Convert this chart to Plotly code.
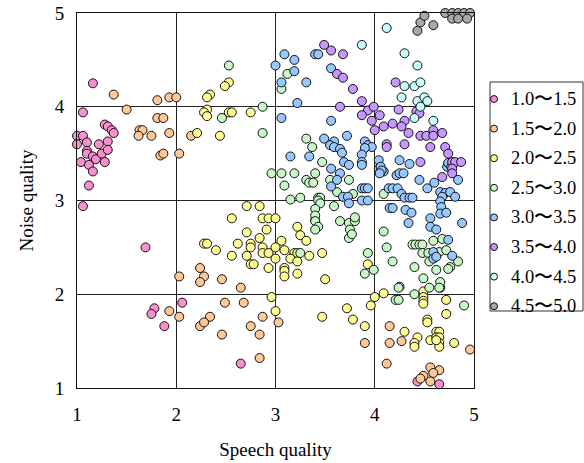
import plotly.graph_objects as go

labels = ["1.0〜1.5", "1.5〜2.0", "2.0〜2.5", "2.5〜3.0", "3.0〜3.5", "3.5〜4.0", "4.0〜4.5", "4.5〜5.0"]
colors = ["#f98fcf", "#ffc896", "#ffff96", "#c8f8c8", "#96c8ff", "#c896ff", "#c8ffff", "#a8a8a8"]

pink_x = [1.16,1.06,1.28,1.31,1.35,1.37,1.00,1.06,1.00,1.10,1.22,1.31,1.10,1.10,1.16,1.19,1.25,1.31,1.04,1.12,1.28,1.16,1.12,1.06,1.69,1.78,1.75,2.06,1.88,2.65,4.43,4.65]
pink_y = [4.25,3.94,3.81,3.79,3.75,3.72,3.69,3.69,3.60,3.62,3.60,3.63,3.53,3.50,3.47,3.44,3.50,3.54,3.41,3.38,3.41,3.31,3.16,2.94,2.50,1.85,1.79,1.91,1.66,1.26,1.07,1.04]

orange_x = [1.37,1.50,1.81,1.93,2.00,1.81,1.87,1.63,1.66,1.62,1.75,1.93,1.84,1.87,2.03,2.15,2.03,2.24,2.28,2.24,1.93,2.03,2.24,2.46,2.65,2.49,2.68,2.34,2.28,2.87,2.75,2.84,2.46,3.03,2.84,4.15,3.90,4.15,4.27,4.12,4.56,4.65,4.59,4.49,4.46,4.56,4.96]
orange_y = [4.13,3.97,4.07,4.10,4.10,3.88,3.88,3.75,3.75,3.69,3.69,3.72,3.48,3.50,3.50,3.69,2.19,2.28,2.19,2.13,1.82,1.76,1.66,2.16,2.07,1.91,1.91,1.76,1.70,1.76,1.66,1.57,1.57,1.70,1.32,1.66,1.48,1.48,1.50,1.26,1.22,1.19,1.16,1.13,1.10,1.07,1.41]

yellow_x = [2.21,2.53,2.49,2.34,2.31,2.31,2.28,2.31,2.53,2.56,2.75,2.44,
            2.71,2.84,2.56,2.87,2.93,3.00,3.22,3.25,3.31,2.91,2.71,2.84,2.28,2.31,2.40,2.62,2.75,2.75,2.87,2.87,2.93,3.06,3.00,3.09,2.56,2.71,3.00,3.19,3.22,3.15,3.22,3.34,2.75,2.78,2.93,3.09,3.09,3.09,3.22,3.47,3.50,2.96,3.00,3.47,3.40,3.93,
            4.00,4.09,3.96,3.72,3.78,3.90,4.49,4.49,4.49,4.49,4.66,4.72,4.72,4.53,4.53,4.30,4.43,4.40,4.40,4.56,4.62,4.65,4.62,4.65,4.65,4.65,4.62,4.80]
yellow_y = [3.72,4.26,4.22,4.13,4.10,3.97,3.94,3.90,3.94,3.94,3.94,3.69,
            2.94,2.94,2.81,2.81,2.81,2.81,2.72,2.63,2.57,2.69,2.66,2.60,2.54,2.54,2.47,2.54,2.54,2.50,2.50,2.44,2.44,2.57,2.50,2.47,2.41,2.41,2.38,2.44,2.44,2.38,2.35,2.41,2.32,2.32,2.28,2.28,2.25,2.19,2.22,2.44,2.16,1.97,1.82,1.76,2.79,2.32,
            1.97,2.01,1.88,1.85,1.73,1.66,2.03,1.97,1.93,1.90,2.07,1.94,1.79,1.73,1.70,1.60,1.54,1.48,1.44,1.51,1.60,1.60,1.54,1.54,1.48,1.44,1.51,1.48]

green_x = [2.53,2.87,2.46,2.87,3.12,3.06,3.31,3.37,3.47,2.96,3.06,3.19,3.09,3.40,3.31,3.34,3.38,3.25,3.43,3.55,3.74,3.62,3.78,3.15,3.45,3.43,3.45,3.59,3.40,3.40,3.40,3.43,3.40,3.65,3.74,3.80,3.80,3.75,3.74,3.77,3.25,3.93,3.90,3.99,
           4.09,4.09,4.12,4.18,4.40,4.38,4.41,4.45,4.48,4.48,4.54,4.55,4.59,4.68,4.65,4.72,4.76,4.74,4.84,4.62,4.49,4.66,4.25,4.40,4.55,4.24,4.21,4.24,4.65,4.90]
green_y = [4.44,4.00,3.88,3.72,4.35,4.19,3.66,3.57,3.41,3.29,3.29,3.29,3.16,3.29,3.22,3.19,3.19,3.03,3.03,3.22,3.22,3.09,3.07,3.01,3.03,3.00,2.97,2.94,2.91,2.84,2.78,2.72,2.69,2.78,2.76,2.78,2.82,2.69,2.60,2.64,2.44,2.44,2.22,2.26,
           3.07,2.67,2.50,2.35,2.29,2.53,2.53,2.53,2.53,2.44,2.44,2.35,2.57,2.59,2.45,2.47,2.29,2.27,2.35,2.26,2.17,2.13,2.08,2.00,2.07,2.07,1.94,1.94,2.07,1.88]

blue_x = [3.00,3.09,3.19,3.19,3.06,3.31,3.40,3.43,3.22,3.06,3.15,3.34,3.49,3.56,3.56,3.59,3.72,3.55,3.59,3.65,3.67,
          4.04,4.09,4.06,4.22,4.25,4.29,4.25,4.35,4.45,4.53,4.60,4.84,4.73,4.14,4.18,4.23,4.27,4.30,4.35,4.38,4.15,4.18,4.31,4.37,4.34,4.56,4.56,4.62,4.88,4.66,4.71,4.76,4.68,4.66,4.67,4.66,4.72,4.81,4.74,4.59,4.59,4.62,4.78,
          3.69,3.74,3.56,3.65,3.62,3.56,3.68,3.73,3.87,3.90,3.93,3.90,3.93,3.97,3.90,3.87,3.87,3.87,4.04,4.06,4.07,4.05,4.74,4.77,3.87,3.93,3.74]
blue_y = [4.44,4.56,4.50,4.38,4.26,4.26,4.56,4.56,4.04,3.88,3.47,3.47,3.66,4.41,3.85,3.63,3.69,3.59,3.57,3.55,3.51,
          3.34,3.31,3.31,3.27,3.29,3.29,3.43,3.39,3.22,3.13,3.19,3.22,3.36,3.13,3.13,3.13,3.07,3.03,3.03,3.03,2.92,2.92,2.90,2.87,2.76,2.81,2.72,2.69,2.76,3.09,3.08,3.09,3.04,2.99,2.93,2.86,2.87,3.04,2.58,2.45,2.38,2.40,2.41,
          3.41,3.38,3.34,3.29,3.22,3.15,3.04,3.04,3.13,3.13,3.13,3.63,3.59,3.57,3.56,3.49,3.41,3.38,3.43,3.36,3.32,3.29,3.40,3.36,3.00,3.00,2.97]

purple_x = [3.49,3.56,3.68,3.62,3.68,3.78,3.87,3.65,3.93,3.87,3.97,3.99,4.05,4.09,4.00,4.21,4.24,4.30,4.27,4.18,4.34,4.42,4.45,4.12,4.12,4.30,4.46,4.52,4.59,4.59,4.68,4.56,4.46,4.71,4.74,4.78,4.81,4.87,4.78,4.78,4.68]
purple_y = [4.66,4.60,4.56,4.35,4.31,4.19,4.06,4.00,3.96,3.91,3.85,4.00,3.91,3.79,3.75,4.26,3.97,3.85,3.79,3.82,3.72,3.95,3.93,3.60,3.57,3.60,3.69,3.69,3.75,3.69,3.72,3.57,3.41,3.57,3.50,3.41,3.41,3.41,3.34,3.29,3.25]

cyan_x = [4.12,3.87,4.30,4.43,4.30,4.40,4.46,4.27,4.43,4.50,4.53,4.46,4.40,4.59]
cyan_y = [4.84,4.66,4.57,4.44,4.22,4.22,4.26,4.10,4.06,4.10,4.06,4.00,3.88,3.85]

gray_x = [4.43,4.46,4.50,4.59,4.71,4.78,4.84,4.90,4.96,4.78,4.84,4.93]
gray_y = [4.81,4.90,4.97,4.87,5.00,5.00,5.00,5.00,5.00,4.94,4.94,4.94]

series = [(pink_x, pink_y), (orange_x, orange_y), (yellow_x, yellow_y), (green_x, green_y),
          (blue_x, blue_y), (purple_x, purple_y), (cyan_x, cyan_y), (gray_x, gray_y)]

FONT = "Liberation Serif"
FS = 19
LEG_FS = 18.5
fig = go.Figure()
for (xs, ys), lab, col in zip(series, labels, colors):
    fig.add_trace(go.Scatter(
        x=xs, y=ys, mode="markers", name=lab, showlegend=False, cliponaxis=False,
        marker=dict(size=9, color=col, line=dict(color="#111111", width=1)),
    ))

axis_common = dict(
    range=[1, 5], tickvals=[1, 2, 3, 4, 5], showgrid=True, gridcolor="#222222", gridwidth=1,
    showline=True, mirror=True, linecolor="#111111", linewidth=1, zeroline=False,
    ticks="", tickfont=dict(family=FONT, size=FS, color="black"),
    title_font=dict(family=FONT, size=FS, color="black"),
)

# Legend drawn as a boxed key at the right of the plot (paper coordinates)
PLOT_L, PLOT_R, PLOT_T, PLOT_B = 77, 474, 13, 388
def px_x(p):
    return (p - PLOT_L) / (PLOT_R - PLOT_L)
def px_y(p):
    return (PLOT_B - p) / (PLOT_B - PLOT_T)

shapes = [dict(type="rect", xref="paper", yref="paper",
               x0=px_x(490), x1=px_x(583), y0=px_y(311), y1=px_y(82),
               line=dict(color="#333333", width=1), fillcolor="white", layer="above")]
annotations = []
for i, (lab, col) in enumerate(zip(labels, colors)):
    cy = 99 + 29.6 * i
    shapes.append(dict(type="circle", xref="paper", yref="paper",
                       xsizemode="pixel", ysizemode="pixel",
                       xanchor=px_x(494), yanchor=px_y(cy),
                       x0=-3.5, x1=3.5, y0=-3.5, y1=3.5,
                       fillcolor=col, line=dict(color="#111111", width=1), layer="above"))
    annotations.append(dict(text=lab, xref="paper", yref="paper", x=px_x(509), y=px_y(cy),
                            xanchor="left", yanchor="middle", showarrow=False,
                            font=dict(family=FONT, size=LEG_FS, color="black")))

fig.update_layout(
    width=584, height=463,
    margin=dict(l=PLOT_L, r=584 - PLOT_R, t=PLOT_T, b=463 - PLOT_B, autoexpand=False),
    paper_bgcolor="white", plot_bgcolor="white",
    font=dict(family=FONT, size=FS, color="black"),
    showlegend=False,
    xaxis=dict(**axis_common, title=dict(text="Speech quality", standoff=18), ticklabelstandoff=9),
    yaxis=dict(**axis_common, title=dict(text="Noise quality", standoff=16), ticklabelstandoff=8),
    shapes=shapes, annotations=annotations,
)
fig.write_html("out.html")
